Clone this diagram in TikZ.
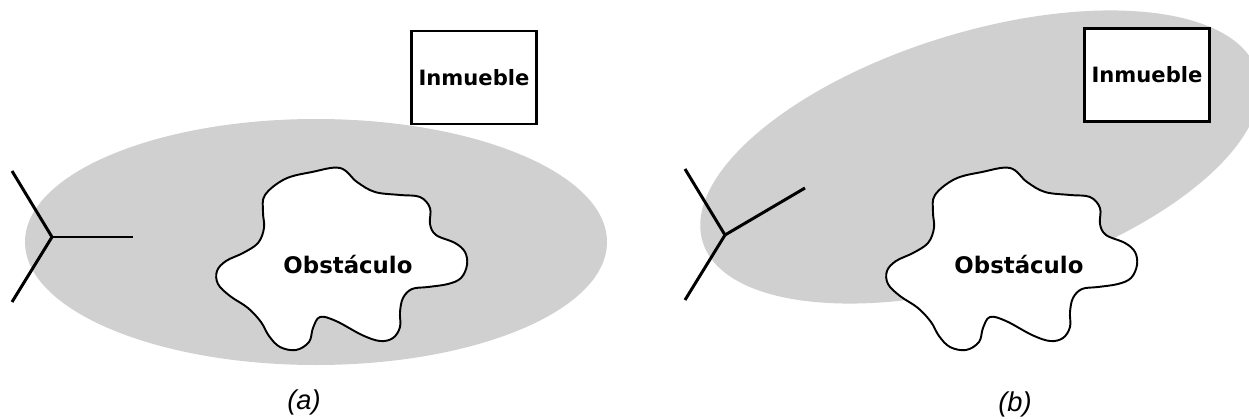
\documentclass[tikz,border=0pt]{standalone}
\usepackage{fontspec}
\setmainfont{DejaVu Sans}
\newfontfamily\capfont{Liberation Sans}
\usetikzlibrary{positioning}
\definecolor{zonegray}{RGB}{208,208,208}
\tikzset{
  zone/.style = {fill = zonegray, draw = none},
  inmueble/.style = {draw, fill = white, line width = 1.5pt, minimum width = 2.5cm,
                     minimum height = 1.86cm, inner sep = 0pt,
                     font = \bfseries\fontsize{12}{14}\selectfont},
  obstaculo/.style = {draw, fill = white, line width = 1.1pt},
  obslabel/.style = {font = \bfseries\fontsize{13}{15}\selectfont, inner sep = 0pt},
  leg/.style = {line width = 1.7pt},
  caption/.style = {font = \capfont\itshape\fontsize{15.5}{18}\selectfont, inner sep = 0pt}
}
\newcommand{\blobpts}{(265,195) (285,179) (312,172) (340,168) (357,182)
  (375,192) (400,195) (420,197) (430,208) (430,224) (436,235) (455,243)
  (465,252) (467,265) (461,278) (448,284) (428,287) (412,289) (403,298)
  (400,312) (400,327) (393,338) (380,341) (362,335) (336,321) (320,317)
  (313,328) (309,342) (296,350) (280,347) (269,336) (261,322) (248,308)
  (230,296) (218,284) (217,271) (226,261) (243,253) (258,243) (264,228)
  (263,212)}
\begin{document}
\begin{tikzpicture}[x = 0.02cm, y = -0.02cm]
  \useasboundingbox (0,0) rectangle (1249,419);

  % (a)
  \fill [zone] (316,242) ellipse (291 and 123);
  \node [inmueble] (boxA) at (474,77.5) {Inmueble};
  \draw [obstaculo] plot [smooth cycle, tension = .6] coordinates {\blobpts};
  \node [obslabel] (obsA) at (348,265) {Obstáculo};
  \coordinate (trA) at (52,237);
  \coordinate (trA1) at (12,171);
  \coordinate (trA2) at (12,302);
  \coordinate (trA3) at (133,237);
  \draw [leg] (trA) -- (trA1);
  \draw [leg] (trA) -- (trA2);
  \draw [leg] (trA) -- (trA3);
  \node [caption] (capA) at (304,402) {(a)};

  % (b)
  \fill [zone, rotate around = {17:(980,157)}] (980,157) ellipse (290 and 125);
  \node [inmueble] (boxB) at (1147,75) {Inmueble};
  \begin{scope}[shift = {(670,0)}]
    \draw [obstaculo] plot [smooth cycle, tension = .6] coordinates {\blobpts};
  \end{scope}
  \node [obslabel] (obsB) at (1019,265) {Obstáculo};
  \coordinate (trB) at (725,235);
  \coordinate (trB1) at (685,169);
  \coordinate (trB2) at (685,300);
  \coordinate (trB3) at (805,188);
  \draw [leg] (trB) -- (trB1);
  \draw [leg] (trB) -- (trB2);
  \draw [leg] (trB) -- (trB3);
  \node [caption] (capB) at (1015,404) {(b)};
\end{tikzpicture}
\end{document}
